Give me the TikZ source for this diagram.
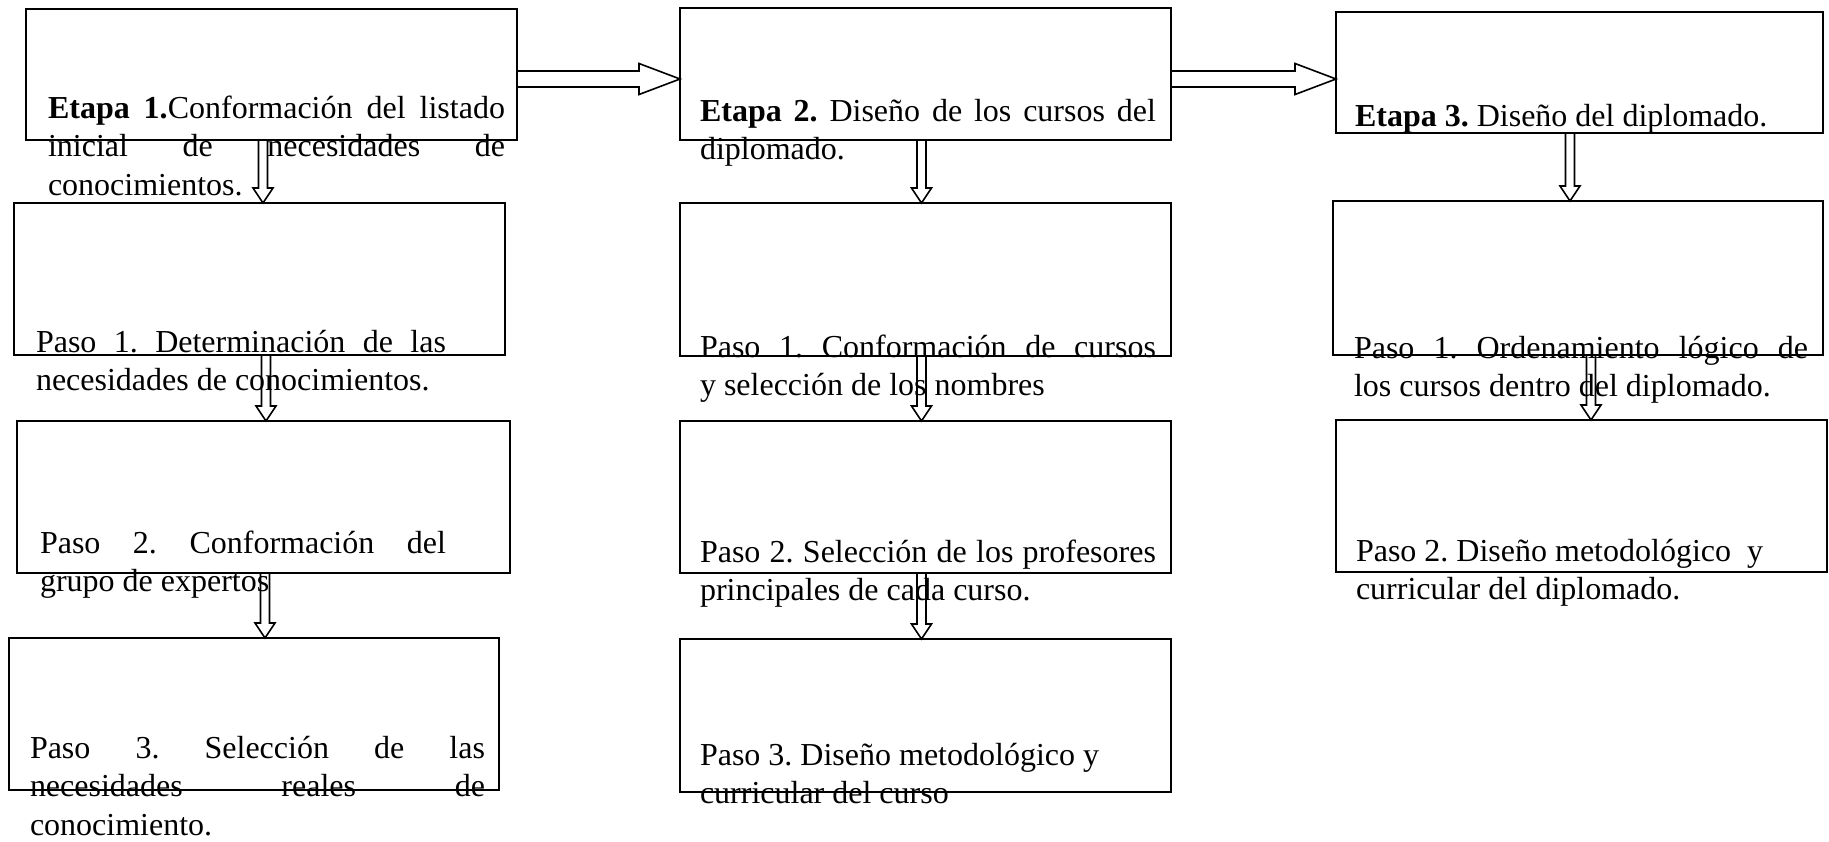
\documentclass[tikz,border=0pt]{standalone}
\usepackage{fontspec}
\setmainfont{Liberation Serif}
\usetikzlibrary{calc}
\frenchspacing
\tikzset{
  box/.style={draw=black, line width=1.9pt, inner sep=0pt, outer sep=0pt},
  blk/.style={draw=black, fill=white, line width=1.6pt, line join=miter},
  txt/.style={inner sep=0pt, outer sep=0pt, anchor=base west, font=\frenchspacing\fontsize{32}{38.5}\selectfont},
}
% horizontal block arrow: from point #1 to the x of point #2
\newcommand\hblk[2]{\draw[blk] let \p1=(#1), \p2=(#2) in
  (\x1,\y1+8pt) -- (\x2-41pt,\y1+8pt) -- (\x2-41pt,\y1+15.5pt) -- (\x2,\y1) --
  (\x2-41pt,\y1-15.5pt) -- (\x2-41pt,\y1-8pt) -- (\x1,\y1-8pt) -- cycle;}
% vertical block arrow: from point #1 down to the y of point #2
\newcommand\vblk[2]{\draw[blk] let \p1=(#1), \p2=(#2) in
  (\x1-4.5pt,\y1) -- (\x1-4.5pt,\y2+15pt) -- (\x1-10pt,\y2+15pt) -- (\x1,\y2) --
  (\x1+10pt,\y2+15pt) -- (\x1+4.5pt,\y2+15pt) -- (\x1+4.5pt,\y1) -- cycle;}
\begin{document}
\begin{tikzpicture}[x=1pt,y=-1pt]
\useasboundingbox (0,0) rectangle (1829,841);
% boxes
\node[box, minimum width=491pt, minimum height=131pt] (e1) at (271.5,74.5) {};
\node[box, minimum width=491pt, minimum height=132pt] (e2) at (925.5,74) {};
\node[box, minimum width=487pt, minimum height=121pt] (e3) at (1579.5,72.5) {};
\node[box, minimum width=491pt, minimum height=152pt] (p11) at (259.5,279) {};
\node[box, minimum width=493pt, minimum height=152pt] (p12) at (263.5,497) {};
\node[box, minimum width=490pt, minimum height=152pt] (p13) at (254,714) {};
\node[box, minimum width=491pt, minimum height=153pt] (p21) at (925.5,279.5) {};
\node[box, minimum width=491pt, minimum height=152pt] (p22) at (925.5,497) {};
\node[box, minimum width=491pt, minimum height=153pt] (p23) at (925.5,715.5) {};
\node[box, minimum width=490pt, minimum height=154pt] (p31) at (1578,278) {};
\node[box, minimum width=491pt, minimum height=152pt] (p32) at (1581.5,496) {};
% arrows
\hblk{$(e1.east)+(0,4.5)$}{e2.west}
\hblk{$(e2.east)+(0,5)$}{e3.west}
\vblk{$(e1.south)+(-8.5,0)$}{p11.north}
\vblk{$(p11.south)+(6.5,0)$}{p12.north}
\vblk{$(p12.south)+(1.5,0)$}{p13.north}
\vblk{$(e2.south)+(-4,0)$}{p21.north}
\vblk{$(p21.south)+(-4,0)$}{p22.north}
\vblk{$(p22.south)+(-4,0)$}{p23.north}
\vblk{$(e3.south)+(-9.5,0)$}{p31.north}
\vblk{$(p31.south)+(13,0)$}{p32.north}
% texts
\node[txt] (te1) at (48,118) {\parbox[t]{457pt}{\makebox[457pt][s]{\textbf{Etapa 1.}Conformación del listado}\\\makebox[457pt][s]{inicial de necesidades de}\\conocimientos.}};
\node[txt] (te2) at (700,121) {\parbox[t]{470pt}{\makebox[456pt][s]{\textbf{Etapa 2.} Diseño de los cursos del}\\diplomado.}};
\node[txt] (te3) at (1355,126) {\textbf{Etapa 3.} Diseño del diplomado.};
\node[txt] (tp11) at (36,352) {\parbox[t]{470pt}{\makebox[410pt][s]{Paso 1. Determinación de las}\\necesidades de conocimientos.}};
\node[txt] (tp12) at (40,553) {\parbox[t]{470pt}{\makebox[406pt][s]{Paso 2. Conformación del}\\grupo de expertos}};
\node[txt] (tp13) at (30,758) {\parbox[t]{470pt}{\makebox[455pt][s]{Paso 3. Selección de las}\\\makebox[455pt][s]{necesidades reales de}\\conocimiento.}};
\node[txt] (tp21) at (700,357) {\parbox[t]{470pt}{\makebox[456pt][s]{Paso 1. Conformación de cursos}\\y selección de los nombres}};
\node[txt] (tp22) at (700,562) {\parbox[t]{470pt}{\makebox[456pt][s]{Paso 2. Selección de los profesores}\\principales de cada curso.}};
\node[txt] (tp23) at (700,765) {\parbox[t]{470pt}{Paso 3. Diseño metodológico y\\curricular del curso}};
\node[txt] (tp31) at (1354,358) {\parbox[t]{470pt}{\makebox[454pt][s]{Paso 1. Ordenamiento lógico de}\\los cursos dentro del diplomado.}};
\node[txt] (tp32) at (1356,561) {\parbox[t]{470pt}{Paso 2. Diseño metodológico~ y\\curricular del diplomado.}};
\end{tikzpicture}
\end{document}
